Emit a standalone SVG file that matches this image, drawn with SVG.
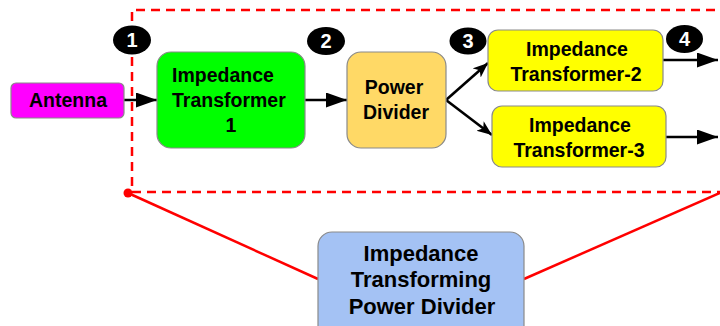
<svg xmlns="http://www.w3.org/2000/svg" width="720" height="326" viewBox="0 0 720 326">
<style>
.box{stroke:#8a8a8a;stroke-width:1.2}
.t{font-family:"Liberation Sans",Arial,sans-serif;font-weight:bold;font-size:19.5px;fill:#000;text-anchor:middle}
.bt{font-size:22px}
.badge{fill:#000}
.bn{font-family:"Liberation Sans",Arial,sans-serif;font-weight:bold;font-size:20px;fill:#fff;text-anchor:middle}
.conn{stroke:#000;stroke-width:2.6;fill:none}
.red{stroke:#ff0000;stroke-width:2.5;fill:none}
</style>
<defs>
<marker id="ah" markerUnits="userSpaceOnUse" markerWidth="22" markerHeight="16" refX="21" refY="7.5" orient="auto">
<path d="M0,0 L21,7.5 L0,15 z" fill="#000"/>
</marker>
<marker id="ahs" markerUnits="userSpaceOnUse" markerWidth="16" markerHeight="14" refX="15" refY="6" orient="auto">
<path d="M0,0 L15,6 L0,12 L4,6 z" fill="#000"/>
</marker>
</defs>
<g id="frame">
<path class="red" d="M745,10 H132 V192 H745" stroke-dasharray="9 6"/>
<circle cx="128" cy="193" r="4.5" fill="#ff0000"/>
<path class="red" d="M128,193 L318,279"/>
<path class="red" d="M524,279 L722,192"/>
</g>
<g id="connectors">
<path class="conn" d="M124,100 L157,100" marker-end="url(#ah)"/>
<path class="conn" d="M305,100 L347,100" marker-end="url(#ah)"/>
<path class="conn" d="M446,100 L488,63" marker-end="url(#ahs)"/>
<path class="conn" d="M446,100 L492,135" marker-end="url(#ahs)"/>
<path class="conn" d="M663,60 L718,60" marker-end="url(#ah)"/>
<path class="conn" d="M666,137 L718,137" marker-end="url(#ah)"/>
</g>
<g id="antenna">
<rect class="box" x="11" y="83" width="113" height="35" rx="5" fill="#ff00ff"/>
<text class="t" x="68" y="107">Antenna</text>
</g>
<g id="it1">
<rect class="box" x="157" y="52" width="148" height="96" rx="14" fill="#00ff00"/>
<text class="t" x="172" y="82" style="text-anchor:start">Impedance</text>
<text class="t" x="172" y="107" style="text-anchor:start">Transformer</text>
<text class="t" x="231" y="132">1</text>
</g>
<g id="pd">
<rect class="box" x="347" y="52" width="99" height="96" rx="14" fill="#ffd966"/>
<text class="t" x="394" y="94">Power</text>
<text class="t" x="396" y="119">Divider</text>
</g>
<g id="it2">
<rect class="box" x="488" y="30" width="175" height="61" rx="10" fill="#ffff00"/>
<text class="t" x="577" y="56">Impedance</text>
<text class="t" x="576" y="81">Transformer-2</text>
</g>
<g id="it3">
<rect class="box" x="492" y="106" width="174" height="61" rx="10" fill="#ffff00"/>
<text class="t" x="580" y="132">Impedance</text>
<text class="t" x="579" y="157">Transformer-3</text>
</g>
<g id="itpd">
<rect class="box" x="318" y="232" width="206" height="110" rx="14" fill="#a4c2f4"/>
<text class="t bt" x="421" y="261">Impedance</text>
<text class="t bt" x="421" y="287">Transforming</text>
<text class="t bt" x="422" y="314">Power Divider</text>
</g>
<g id="b1"><ellipse class="badge" cx="132" cy="40" rx="19" ry="14.5"/><text class="bn" x="132" y="47">1</text></g>
<g id="b2"><ellipse class="badge" cx="326" cy="41" rx="19" ry="14"/><text class="bn" x="326" y="48">2</text></g>
<g id="b3"><ellipse class="badge" cx="468" cy="41" rx="18.5" ry="13.5"/><text class="bn" x="468" y="48">3</text></g>
<g id="b4"><ellipse class="badge" cx="684.5" cy="39" rx="18.5" ry="14"/><text class="bn" x="684.5" y="46">4</text></g>
</svg>
